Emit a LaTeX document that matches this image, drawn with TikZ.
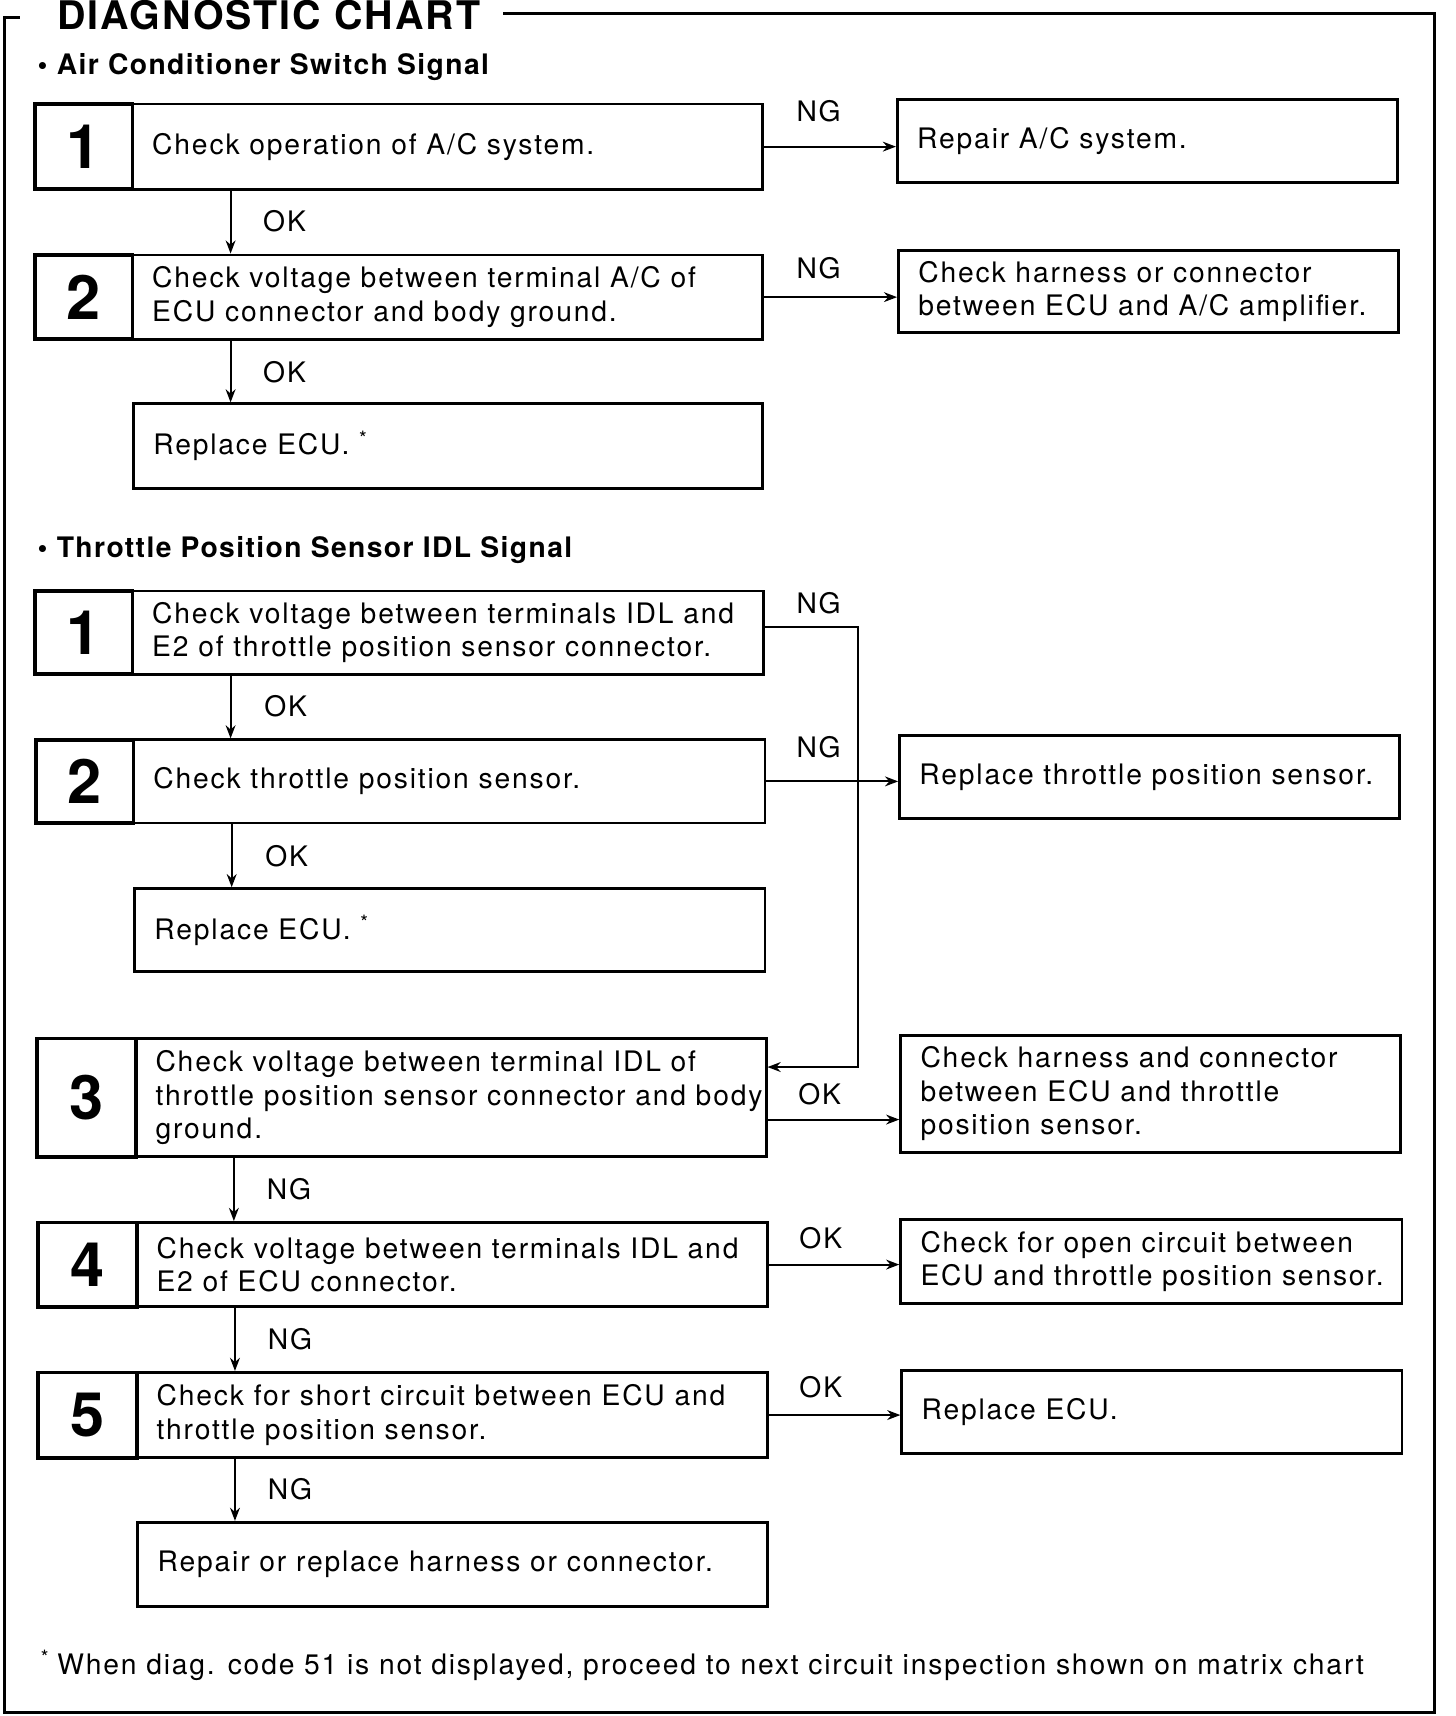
\documentclass[tikz,border=0pt]{standalone}
\usepackage{fontspec}
\setmainfont{TeX Gyre Heros}[LetterSpace=6.5]
\newfontfamily\hdfont{TeX Gyre Heros}[LetterSpace=5]
\usetikzlibrary{arrows.meta}
\newcommand\bodyfont{\fontsize{12.9}{15.3}\selectfont}
\newcommand\numfnt{\hdfont\fontsize{28}{28}\selectfont\bfseries}
% text box: name, x1, y1, x2, y2, text
\newcommand\tbox[6]{%
  \pgfmathsetmacro\bw{(#4-#2)*0.5}%
  \pgfmathsetmacro\bh{(#5-#3)*0.5}%
  \node[txt,minimum width=\bw pt,minimum height=\bh pt] (#1) at ({(#2+#4)/2},{(#3+#5)/2}) {};
  \node[tlabel] (#1-t) at ([xshift=9.5pt]#1.west) {#6};}
% number box
\newcommand\nbox[6]{%
  \pgfmathsetmacro\bw{(#4-#2)*0.5}%
  \pgfmathsetmacro\bh{(#5-#3)*0.5}%
  \node[num,minimum width=\bw pt,minimum height=\bh pt] (#1) at ({(#2+#4)/2},{(#3+#5)/2}) {#6};}
\begin{document}
\begin{tikzpicture}[x=0.5pt,y=-0.5pt,
  txt/.style={draw,line width=1.3pt,inner sep=0pt},
  tlabel/.style={anchor=west,align=left,inner sep=0pt,font=\bodyfont},
  num/.style={draw,line width=1.7pt,align=center,inner sep=0pt,font=\numfnt},
  conn/.style={line width=0.9pt,-{Stealth[length=6pt,width=4.5pt]}},
  lbl/.style={inner sep=0pt,font=\bodyfont},
  frame/.style={line width=1.3pt}]
\useasboundingbox (0,0) rectangle (1330,1568);
% frame
\draw[frame] (18,16) -- (4,16) -- (4,1565) -- (1311,1565) -- (1311,12) -- (460,12);
\node[anchor=base west,inner sep=0pt,font=\hdfont\fontsize{18}{18}\selectfont\bfseries] (title) at (52,27) {DIAGNOSTIC CHART};
\node[anchor=base west,inner sep=0pt,font=\hdfont\fontsize{12.9}{15}\selectfont\bfseries] (h1) at (34,68) {\textbullet\ Air Conditioner Switch Signal};
\node[anchor=base west,inner sep=0pt,font=\hdfont\fontsize{12.9}{15}\selectfont\bfseries] (h2) at (34,509) {\textbullet\ Throttle Position Sensor IDL Signal};
% section 1
\nbox{a1n}{32}{95}{121}{173}{1}
\tbox{a1t}{121}{95}{697}{173}{Check operation of A/C system.}
\tbox{r1}{820}{91}{1277}{167}{Repair A/C system.}
\nbox{a2n}{32}{233}{121}{310}{2}
\tbox{a2t}{121}{233}{697}{310}{Check voltage between terminal A/C of\\ECU connector and body ground.}
\tbox{r2}{821}{229}{1278}{304}{Check harness or connector\\between ECU and A/C amplifier.}
\tbox{a3}{122}{369}{697}{446}{Replace ECU. \textsuperscript{*}}
% section 2
\nbox{b1n}{32}{540}{121}{616}{1}
\tbox{b1t}{121}{540}{698}{616}{Check voltage between terminals IDL and\\E2 of throttle position sensor connector.}
\nbox{b2n}{33}{676}{122}{752}{2}
\tbox{b2t}{122}{676}{699}{752}{Check throttle position sensor.}
\tbox{rb2}{822}{672}{1279}{748}{Replace throttle position sensor.}
\tbox{b2e}{123}{812}{699}{888}{Replace ECU. \textsuperscript{*}}
\nbox{b3n}{34}{949}{124}{1057}{3}
\tbox{b3t}{124}{949}{700}{1057}{Check voltage between terminal IDL of\\throttle position sensor connector and body\\ground.}
\tbox{rb3}{823}{946}{1280}{1053}{Check harness and connector\\between ECU and throttle\\position sensor.}
\nbox{b4n}{35}{1117}{125}{1194}{4}
\tbox{b4t}{125}{1117}{701}{1194}{Check voltage between terminals IDL and\\E2 of ECU connector.}
\tbox{rb4}{823}{1114}{1281}{1191}{Check for open circuit between\\ECU and throttle position sensor.}
\nbox{b5n}{35}{1254}{125}{1332}{5}
\tbox{b5t}{125}{1254}{701}{1332}{Check for short circuit between ECU and\\throttle position sensor.}
\tbox{rb5}{824}{1252}{1281}{1328}{Replace ECU.}
\tbox{b6}{126}{1391}{701}{1468}{Repair or replace harness or connector.}
% connectors section 1
\draw[conn] (a1t.east) -- (a1t.east -| r1.west);
\draw[conn] ([xshift=45.5pt]a1t.south west) -- ([xshift=45.5pt]a1t.south west |- a2t.north);
\draw[conn] (a2t.east) -- (a2t.east -| r2.west);
\draw[conn] ([xshift=45.5pt]a2t.south west) -- ([xshift=45.5pt]a2t.south west |- a3.north);
% connectors section 2
\coordinate (j1) at (784,573);
\coordinate (j2) at (784,975);
\draw[conn] (b1t.east |- j1) -- (j1) -- (j2) -- (b3t.east |- j2);
\draw[conn] ([xshift=45.5pt]b1t.south west) -- ([xshift=45.5pt]b1t.south west |- b2t.north);
\draw[conn] (b2t.east) -- (b2t.east -| rb2.west);
\draw[conn] ([xshift=45.5pt]b2t.south west) -- ([xshift=45.5pt]b2t.south west |- b2e.north);
\draw[conn] ([yshift=-10pt]b3t.east) -- ([yshift=-10pt]b3t.east -| rb3.west);
\draw[conn] ([xshift=45.5pt]b3t.south west) -- ([xshift=45.5pt]b3t.south west |- b4t.north);
\draw[conn] (b4t.east) -- (b4t.east -| rb4.west);
\draw[conn] ([xshift=45.5pt]b4t.south west) -- ([xshift=45.5pt]b4t.south west |- b5t.north);
\draw[conn] (b5t.east) -- (b5t.east -| rb5.west);
\draw[conn] ([xshift=45.5pt]b5t.south west) -- ([xshift=45.5pt]b5t.south west |- b6.north);
% labels
\node[lbl] (l1) at (748,102) {NG};
\node[lbl] (l2) at (260,202) {OK};
\node[lbl] (l3) at (748,245) {NG};
\node[lbl] (l4) at (260,340) {OK};
\node[lbl] (l5) at (748,551) {NG};
\node[lbl] (l6) at (261,645) {OK};
\node[lbl] (l7) at (748,683) {NG};
\node[lbl] (l8) at (262,782) {OK};
\node[lbl] (l9) at (749,1000) {OK};
\node[lbl] (l10) at (264,1087) {NG};
\node[lbl] (l11) at (750,1131) {OK};
\node[lbl] (l12) at (265,1224) {NG};
\node[lbl] (l13) at (750,1268) {OK};
\node[lbl] (l14) at (265,1361) {NG};
% footnote
\node[anchor=base west,inner sep=0pt,font=\fontsize{12.9}{15}\selectfont] (fn) at (37,1530) {\textsuperscript{*}\hspace{3.5pt}When diag. code 51 is not displayed, proceed to next circuit inspection shown on matrix chart};
\end{tikzpicture}
\end{document}
